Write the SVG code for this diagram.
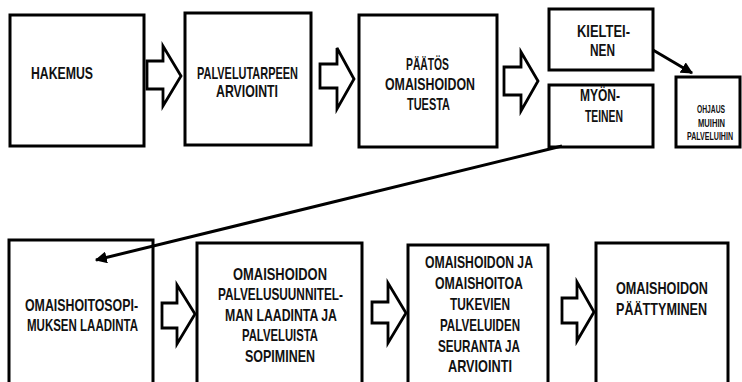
<svg xmlns="http://www.w3.org/2000/svg" width="742" height="382" viewBox="0 0 742 382">
<style>
.box{fill:#fff;stroke:#000;stroke-width:3}
.blk{fill:#fff;stroke:#000;stroke-width:2.8;stroke-linejoin:miter}
.t{font-family:"Liberation Sans",Arial,sans-serif;font-weight:bold;font-size:17px;fill:#111}
.s{font-family:"Liberation Sans",Arial,sans-serif;font-weight:bold;font-size:10px;fill:#111}
.con{fill:none;stroke:#000;stroke-width:3}
</style>
<defs>
<marker id="ah" viewBox="0 0 10 10" refX="9" refY="5" markerWidth="4" markerHeight="4" orient="auto" markerUnits="strokeWidth">
<path d="M0,0 L10,5 L0,10 Z" fill="#000"/>
</marker>
</defs>
<rect width="742" height="382" fill="#fff"/>
<g id="hakemus"><rect class="box" x="10" y="15" width="134" height="131"/>
<text class="t" x="31" y="79" textLength="62" lengthAdjust="spacingAndGlyphs">HAKEMUS</text></g>
<g id="palvelutarpeen"><rect class="box" x="185" y="13" width="126" height="132"/>
<text class="t" x="197" y="79" textLength="101" lengthAdjust="spacingAndGlyphs">PALVELUTARPEEN</text>
<text class="t" x="216" y="97" textLength="62" lengthAdjust="spacingAndGlyphs">ARVIOINTI</text></g>
<g id="paatos"><rect class="box" x="359" y="15" width="138" height="132"/>
<text class="t" x="406" y="70" textLength="43" lengthAdjust="spacingAndGlyphs">PÄÄTÖS</text>
<text class="t" x="385" y="90" textLength="90" lengthAdjust="spacingAndGlyphs">OMAISHOIDON</text>
<text class="t" x="407" y="110" textLength="43" lengthAdjust="spacingAndGlyphs">TUESTA</text></g>
<g id="kielteinen"><rect class="box" x="549" y="9" width="104" height="61"/>
<text class="t" x="577" y="37" textLength="53" lengthAdjust="spacingAndGlyphs">KIELTEI-</text>
<text class="t" x="590" y="56" textLength="25" lengthAdjust="spacingAndGlyphs">NEN</text></g>
<g id="myonteinen"><rect class="box" x="549" y="85" width="104" height="62"/>
<text class="t" x="580" y="101" textLength="40" lengthAdjust="spacingAndGlyphs">MYÖN-</text>
<text class="t" x="585" y="122" textLength="38" lengthAdjust="spacingAndGlyphs">TEINEN</text></g>
<g id="ohjaus"><rect class="box" x="676" y="77" width="64" height="70"/>
<text class="s" x="697" y="113" textLength="28" lengthAdjust="spacingAndGlyphs">OHJAUS</text>
<text class="s" x="698" y="127" textLength="27" lengthAdjust="spacingAndGlyphs">MUIHIN</text>
<text class="s" x="687" y="140" textLength="46" lengthAdjust="spacingAndGlyphs">PALVELUIHIN</text></g>
<g id="omaishoitosopimus"><rect class="box" x="9" y="240" width="144" height="150"/>
<text class="t" x="25" y="311" textLength="113" lengthAdjust="spacingAndGlyphs">OMAISHOITOSOPI-</text>
<text class="t" x="27" y="331" textLength="111" lengthAdjust="spacingAndGlyphs">MUKSEN LAADINTA</text></g>
<g id="palvelusuunnitelma"><rect class="box" x="197" y="243" width="165" height="150"/>
<text class="t" x="233" y="280" textLength="94" lengthAdjust="spacingAndGlyphs">OMAISHOIDON</text>
<text class="t" x="218" y="300" textLength="125" lengthAdjust="spacingAndGlyphs">PALVELUSUUNNITEL-</text>
<text class="t" x="225" y="321" textLength="112" lengthAdjust="spacingAndGlyphs">MAN LAADINTA JA</text>
<text class="t" x="242" y="341" textLength="76" lengthAdjust="spacingAndGlyphs">PALVELUISTA</text>
<text class="t" x="245" y="362" textLength="70" lengthAdjust="spacingAndGlyphs">SOPIMINEN</text></g>
<g id="seuranta"><rect class="box" x="408" y="245" width="140" height="150"/>
<text class="t" x="425" y="268" textLength="108" lengthAdjust="spacingAndGlyphs">OMAISHOIDON JA</text>
<text class="t" x="435" y="289" textLength="88" lengthAdjust="spacingAndGlyphs">OMAISHOITOA</text>
<text class="t" x="450" y="310" textLength="60" lengthAdjust="spacingAndGlyphs">TUKEVIEN</text>
<text class="t" x="440" y="331" textLength="80" lengthAdjust="spacingAndGlyphs">PALVELUIDEN</text>
<text class="t" x="438" y="352" textLength="82" lengthAdjust="spacingAndGlyphs">SEURANTA JA</text>
<text class="t" x="448" y="372" textLength="64" lengthAdjust="spacingAndGlyphs">ARVIOINTI</text></g>
<g id="paattyminen"><rect class="box" x="596" y="243" width="132" height="150"/>
<text class="t" x="616" y="294" textLength="92" lengthAdjust="spacingAndGlyphs">OMAISHOIDON</text>
<text class="t" x="616" y="315" textLength="91" lengthAdjust="spacingAndGlyphs">PÄÄTTYMINEN</text></g>
<g id="connectors">
<path class="blk" d="M147,61 H163 V46 L181,76 L163,106 V89 H147 Z"/>
<path class="blk" d="M320,64 H337 V48 L354,79 L337,109 V88 H320 Z"/>
<path class="blk" d="M504,67 H521 V52 L538,81 L521,111 V95 H504 Z"/>
<path class="blk" d="M162,303 H177 V285 L195,314 L177,344 V328 H162 Z"/>
<path class="blk" d="M372,302 H388 V283 L406,313 L388,343 V323 H372 Z"/>
<path class="blk" d="M562,298 H577 V282 L594,312 L577,341 V323 H562 Z"/>
<line class="con" x1="653" y1="50" x2="692" y2="73" marker-end="url(#ah)"/>
<line class="con" x1="562" y1="146" x2="96" y2="260" marker-end="url(#ah)"/>
</g>
</svg>
